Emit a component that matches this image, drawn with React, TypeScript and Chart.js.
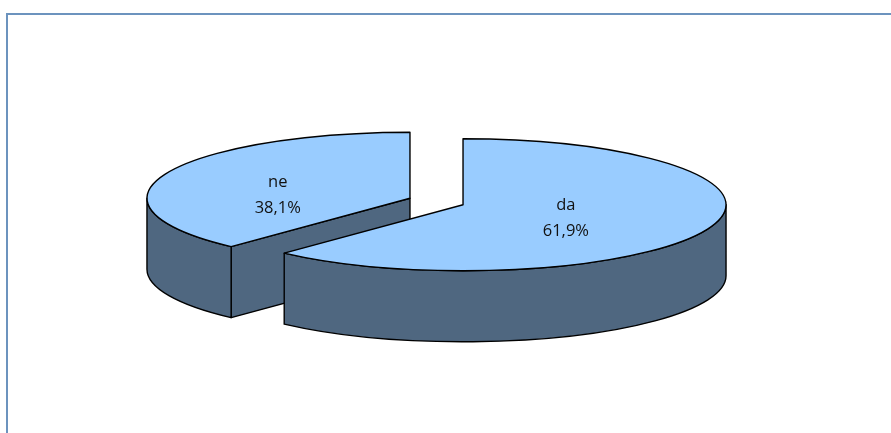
import React, { useEffect, useRef } from "react";
import { Chart, registerables } from "chart.js";

Chart.register(...registerables);

const categories = ["da", "ne"];
const shares = [61.9, 38.1];
const labelReach = [0.42, 0.54];

const TOP_COLOR = "#99CCFF";
const WALL_COLOR = "#4F6780";
const FRAME_COLOR = "#6C93BE";
const SQUASH = 0.251;
const DEPTH = 71;
const EXPLODE = 28.5;
const EXPLODE_Y = 1.25;

const pie3d = {
  id: "pie3d",
  beforeDraw(chart: any) {
    const { ctx } = chart;
    ctx.save();
    ctx.fillStyle = "#ffffff";
    ctx.fillRect(0, 0, chart.width, chart.height);
    ctx.strokeStyle = FRAME_COLOR;
    ctx.lineWidth = 2;
    ctx.strokeRect(7, 14, chart.width + 20, chart.height + 20);
    ctx.restore();
  },
  beforeDatasetDraw(chart: any, args: any) {
    const { ctx } = chart;
    const arcs = args.meta.data as any[];
    const order = arcs.map((_, i) => i).reverse();
    ctx.save();
    ctx.lineWidth = 1.4;
    ctx.lineJoin = "round";
    ctx.strokeStyle = "#000000";
    for (const i of order) {
      const arc = arcs[i];
      const { startAngle: s, endAngle: e, outerRadius: r } = arc;
      const mid = (s + e) / 2;
      const cx = arc.x + Math.cos(mid) * EXPLODE;
      const cy = arc.y + Math.sin(mid) * EXPLODE * SQUASH * EXPLODE_Y;
      const ry = r * SQUASH;
      const px = (a: number) => cx + Math.cos(a) * r;
      const py = (a: number) => cy + Math.sin(a) * ry;

      ctx.fillStyle = WALL_COLOR;
      // radial cut faces turned towards the viewer
      for (const [a, normal] of [
        [s, s - Math.PI / 2],
        [e, e + Math.PI / 2],
      ]) {
        if (Math.sin(normal) > 1e-6) {
          ctx.beginPath();
          ctx.moveTo(cx, cy);
          ctx.lineTo(px(a), py(a));
          ctx.lineTo(px(a), py(a) + DEPTH);
          ctx.lineTo(cx, cy + DEPTH);
          ctx.closePath();
          ctx.fill();
          ctx.stroke();
        }
      }
      // outer rim: the part of the slice on the near half of the ellipse
      const a0 = Math.max(s, 0);
      const a1 = Math.min(e, Math.PI);
      if (a1 > a0) {
        ctx.beginPath();
        ctx.ellipse(cx, cy, r, ry, 0, a0, a1);
        ctx.lineTo(px(a1), py(a1) + DEPTH);
        ctx.ellipse(cx, cy + DEPTH, r, ry, 0, a1, a0, true);
        ctx.closePath();
        ctx.fill();
        ctx.stroke();
      }
      // top face
      ctx.fillStyle = TOP_COLOR;
      ctx.beginPath();
      ctx.moveTo(cx, cy);
      ctx.ellipse(cx, cy, r, ry, 0, s, e);
      ctx.closePath();
      ctx.fill();
      ctx.stroke();

      // label
      const lx = cx + Math.cos(mid) * r * labelReach[i];
      const ly = cy + Math.sin(mid) * ry * labelReach[i] + (i === 1 ? 10 : 3);
      ctx.fillStyle = "#111111";
      ctx.font = '16.5px "Open Sans", sans-serif';
      ctx.textAlign = "center";
      ctx.textBaseline = "middle";
      ctx.fillText(chart.data.labels[i], lx, ly - 13);
      ctx.fillText(shares[i].toFixed(1).replace(".", ",") + "%", lx, ly + 13);
    }
    ctx.restore();
    return false;
  },
};

export default function App() {
  const ref = useRef<HTMLCanvasElement>(null);
  useEffect(() => {
    const chart = new Chart(ref.current!, {
      type: "pie",
      data: {
        labels: categories,
        datasets: [{ data: shares, backgroundColor: TOP_COLOR, borderWidth: 0 }],
      },
      options: {
        responsive: false,
        animation: false,
        radius: 263,
        layout: { padding: { right: 18, bottom: 30 } },
        plugins: { legend: { display: false }, tooltip: { enabled: false } },
      } as any,
      plugins: [pie3d],
    });
    return () => chart.destroy();
  }, []);
  return (
    <div style={{ position: "fixed", inset: 0, overflow: "hidden", background: "#fff" }}>
      <canvas
        ref={ref}
        width={891}
        height={433}
        style={{ display: "block", width: 891, height: 433, filter: "blur(0.5px)" }}
      />
    </div>
  );
}
